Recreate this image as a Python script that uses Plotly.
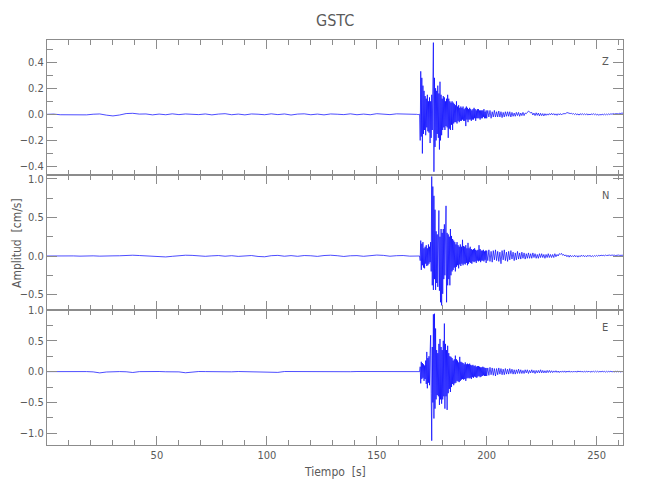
import numpy as np
import plotly.graph_objects as go
from plotly.subplots import make_subplots

quiet_start, quiet_step = 0.0, 3.0      # 56 samples, 0 .. 165 s
active_start, active_step = 168.0, 0.25  # 128 samples, 168 .. 199.75 s
tail_start, tail_step = 200.0, 0.5       # 125 samples, 200 .. 262 s

components = ["Z", "N", "E"]

# ---------------- Z ----------------
z_quiet = [
    0.0, 0.002, -0.003, -0.004, -0.005, -0.003, -0.004, 0.001,
    0.003, -0.006, -0.012, -0.005, 0.006, 0.008, 0.002, 0.003,
    -0.004, 0.002, -0.003, 0.004, -0.002, 0.003, 0.001, -0.002,
    0.003, -0.004, 0.002, 0.005, -0.003, 0.002, -0.004, 0.003,
    0.001, -0.003, 0.004, -0.002, 0.003, -0.005, 0.002, 0.004,
    -0.003, 0.002, -0.004, 0.003, 0.001, -0.002, 0.004, -0.003,
    0.002, -0.003, 0.005, 0.003, -0.002, 0.004, 0.002, -0.003,
]
z_active = [
    0.0, 0.002, -0.003, 0.002, -0.002, 0.003, 0.0, -0.20,
    0.33, -0.17, 0.28, -0.30, 0.22, -0.15, 0.18, -0.12,
    0.14, -0.16, 0.12, -0.10, 0.15, -0.13, 0.10, -0.14,
    0.13, -0.22, 0.10, -0.18, 0.15, -0.12, 0.20, 0.55,
    -0.44, 0.28, -0.25, 0.20, -0.20, 0.18, -0.15, 0.22,
    -0.18, 0.16, -0.27, 0.25, -0.20, 0.15, -0.16, 0.12,
    -0.12, 0.14, -0.10, 0.13, -0.12, 0.10, -0.09, 0.12,
    -0.10, 0.15, -0.18, 0.12, -0.11, 0.10, -0.12, 0.09,
    -0.08, 0.10, -0.12, 0.09, -0.07, 0.08, -0.06, 0.07,
    -0.06, 0.10, -0.07, 0.06, -0.05, 0.07, -0.06, 0.05,
    -0.05, 0.06, -0.05, 0.05, -0.04, 0.06, -0.05, 0.04,
    -0.05, 0.05, -0.09, 0.06, -0.04, 0.05, -0.06, 0.04,
    -0.04, 0.05, -0.04, 0.04, -0.05, 0.03, -0.04, 0.04,
    -0.04, 0.05, -0.03, 0.04, -0.05, 0.03, -0.03, 0.04,
    -0.03, 0.04, -0.03, 0.03, -0.04, 0.03, -0.03, 0.03,
    -0.03, 0.03, -0.02, 0.04, -0.03, 0.02, -0.03, 0.03,
]
z_tail = [
    -0.03, 0.03, -0.02, 0.03, -0.03, 0.02, -0.02, 0.03, -0.02, 0.02,
    -0.02, 0.025, -0.02, 0.02, -0.025, 0.015, -0.02, 0.02, -0.015, 0.02,
    -0.015, 0.02, -0.02, 0.015, -0.015, 0.01, -0.015, 0.015, -0.01, 0.015,
    -0.015, 0.01, -0.01, 0.015, -0.01, 0.01, 0.005, 0.015, 0.025, 0.02,
    0.01, 0.015, -0.005, 0.01, -0.01, 0.012, -0.008, 0.01, -0.012, 0.008,
    -0.01, 0.006, -0.012, 0.005, -0.008, 0.004, -0.006, 0.006, -0.004, 0.008,
    -0.004, 0.006, -0.006, 0.004, -0.008, 0.005, -0.004, 0.006, -0.005, 0.004,
    0.004, 0.008, 0.006, 0.014, 0.01, 0.012, 0.006, 0.008, 0.002, 0.006,
    -0.002, 0.006, -0.004, 0.004, -0.006, 0.005, -0.003, 0.006, -0.004, 0.004,
    -0.004, 0.005, -0.006, 0.003, -0.005, 0.004, -0.002, 0.005, -0.003, 0.004,
    -0.006, 0.002, -0.008, 0.001, -0.006, 0.002, -0.005, 0.003, -0.004, 0.002,
    -0.003, 0.004, -0.002, 0.005, 0.0, 0.006, 0.002, 0.005, 0.003, 0.006,
    0.004, 0.008, 0.006, 0.01, 0.008,
]

# ---------------- N ----------------
n_quiet = [
    0.0, 0.002, -0.002, 0.003, 0.001, -0.002, 0.004, 0.002,
    -0.002, 0.004, 0.002, 0.003, 0.008, 0.010, 0.006, 0.002,
    -0.004, -0.010, -0.012, -0.004, 0.006, 0.010, 0.008, 0.002,
    -0.004, 0.002, 0.006, -0.003, 0.004, -0.005, 0.003, 0.006,
    -0.006, -0.010, 0.004, 0.008, -0.003, 0.005, -0.004, 0.006,
    0.003, -0.005, 0.006, 0.010, 0.004, -0.006, 0.003, 0.005,
    -0.004, 0.006, 0.012, 0.008, -0.003, 0.004, 0.006, -0.002,
]
n_active = [
    0.0, 0.002, -0.002, 0.003, -0.002, 0.002, 0.0, -0.06,
    0.20, -0.18, 0.16, -0.12, 0.18, -0.15, 0.10, -0.16,
    0.12, -0.10, 0.14, -0.13, 0.10, -0.12, 0.15, -0.10,
    0.12, -0.08, 0.18, -0.20, 1.03, -0.38, 0.90, -0.44,
    0.78, -0.30, 0.60, -0.44, 0.32, -0.35, 0.28, -0.40,
    0.30, 0.59, -0.45, 0.25, -0.60, 0.35, -0.64, 0.30,
    -0.49, 0.35, -0.30, 0.41, -0.25, 0.30, 0.65, -0.60,
    0.30, -0.38, 0.28, -0.30, 0.25, -0.38, 0.35, -0.25,
    0.26, -0.20, 0.22, -0.18, 0.20, -0.15, 0.18, -0.20,
    0.15, -0.14, 0.18, -0.12, 0.14, -0.16, 0.12, -0.11,
    0.15, -0.13, 0.12, -0.10, 0.21, -0.12, 0.13, -0.10,
    0.12, -0.11, 0.14, -0.09, 0.10, -0.12, 0.17, -0.10,
    0.10, -0.08, 0.12, -0.09, 0.09, -0.10, 0.08, -0.07,
    0.09, -0.08, 0.10, -0.07, 0.08, -0.09, 0.07, -0.06,
    0.08, -0.07, 0.14, -0.06, 0.09, -0.08, 0.07, -0.06,
    0.07, -0.06, 0.08, -0.07, 0.06, -0.05, 0.07, -0.09,
]
n_tail = [
    0.07, -0.06, 0.08, -0.07, 0.06, -0.08, 0.07, -0.05, 0.08, -0.06,
    0.06, -0.07, 0.05, -0.10, 0.07, -0.05, 0.08, -0.06, 0.05, -0.07,
    0.06, -0.05, 0.07, -0.04, 0.05, -0.06, 0.04, -0.05, 0.06, -0.04,
    0.04, -0.04, 0.05, -0.03, 0.04, -0.04, 0.03, -0.03, 0.04, -0.03,
    0.03, -0.03, 0.04, -0.02, 0.03, -0.03, 0.02, -0.03, 0.03, -0.02,
    0.03, -0.02, 0.02, -0.03, 0.02, -0.02, 0.03, -0.02, 0.02, -0.02,
    0.02, -0.02, 0.03, -0.01, 0.02, 0.0, 0.03, 0.02, 0.035, 0.01,
    0.02, 0.0, 0.015, -0.01, 0.01, -0.015, 0.01, -0.01, 0.005, -0.01,
    0.01, -0.01, 0.005, -0.015, 0.005, -0.01, 0.01, -0.005, 0.01, -0.01,
    0.005, -0.01, 0.01, -0.005, 0.01, -0.01, 0.005, -0.008, 0.006, -0.004,
    0.008, -0.004, 0.01, 0.0, 0.012, 0.004, 0.01, 0.002, 0.012, 0.006,
    0.01, 0.004, 0.012, 0.006, 0.014, 0.008, 0.012, 0.006, 0.01, 0.008,
    0.012, 0.008, 0.01, 0.012, 0.01,
]

# ---------------- E ----------------
e_quiet = [
    0.0, 0.002, -0.002, 0.0, 0.003, -0.002, 0.001, -0.004,
    -0.020, -0.006, 0.002, 0.001, -0.002, -0.014, 0.0, 0.003,
    0.004, 0.002, -0.002, 0.001, -0.004, -0.018, -0.006, 0.002,
    0.001, -0.002, 0.002, 0.0, -0.003, 0.002, -0.001, 0.003,
    -0.002, 0.001, -0.008, -0.012, 0.002, 0.001, -0.002, 0.002,
    0.0, -0.003, 0.002, 0.001, -0.002, 0.003, -0.001, 0.002,
    0.001, -0.002, 0.003, 0.002, -0.002, 0.001, 0.002, -0.001,
]
e_active = [
    0.0, 0.002, -0.002, 0.001, -0.002, 0.002, 0.0, 0.08,
    -0.19, 0.16, -0.12, 0.14, -0.10, 0.12, -0.15, 0.10,
    -0.12, 0.18, -0.20, 0.32, -0.27, 0.22, -0.18, 0.25,
    -0.22, 0.30, 0.59, -0.35, -1.12, 0.40, -0.50, 0.93,
    -0.76, 0.94, -0.60, 0.70, -0.45, 0.35, -0.38, 0.30,
    -0.40, 0.45, -0.54, 0.53, -0.45, 0.40, -0.52, 0.35,
    -0.45, 0.50, -0.40, 0.78, -0.60, 0.45, -0.40, 0.35,
    -0.62, 0.42, -0.35, 0.30, -0.28, 0.25, -0.33, 0.24,
    -0.25, 0.22, -0.20, 0.18, -0.22, 0.20, -0.19, 0.26,
    -0.18, 0.20, -0.15, 0.18, -0.16, 0.15, -0.17, 0.24,
    -0.15, 0.16, -0.13, 0.15, -0.12, 0.14, -0.13, 0.12,
    -0.12, 0.15, -0.15, 0.12, -0.11, 0.13, -0.10, 0.12,
    -0.11, 0.13, -0.10, 0.11, -0.12, 0.10, -0.09, 0.11,
    -0.10, 0.09, -0.08, 0.10, -0.09, 0.08, -0.10, 0.09,
    -0.08, 0.09, -0.07, 0.08, -0.09, 0.07, -0.08, 0.07,
    -0.07, 0.08, -0.06, 0.07, -0.07, 0.06, -0.07, 0.06,
]
e_tail = [
    -0.07, 0.06, -0.06, 0.07, -0.05, 0.06, -0.06, 0.05, -0.07, 0.05,
    -0.05, 0.06, -0.04, 0.05, -0.05, 0.04, -0.05, 0.05, -0.04, 0.04,
    -0.04, 0.05, -0.03, 0.04, -0.04, 0.03, -0.04, 0.03, -0.03, 0.04,
    -0.03, 0.03, -0.03, 0.02, -0.03, 0.03, -0.02, 0.03, -0.03, 0.02,
    -0.02, 0.03, -0.02, 0.02, -0.03, 0.02, -0.02, 0.02, -0.02, 0.03,
    -0.02, 0.02, -0.02, 0.015, -0.02, 0.02, -0.015, 0.02, -0.015, 0.015,
    -0.015, 0.012, -0.01, 0.015, -0.012, 0.01, -0.015, 0.01, -0.01, 0.012,
    -0.01, 0.012, -0.012, 0.01, -0.008, 0.012, -0.01, 0.008, -0.01, 0.01,
    -0.008, 0.01, -0.01, 0.012, -0.006, 0.01, -0.008, 0.01, -0.01, 0.008,
    -0.008, 0.01, -0.006, 0.008, -0.01, 0.006, -0.008, 0.01, -0.006, 0.008,
    -0.006, 0.008, -0.008, 0.006, -0.006, 0.008, -0.004, 0.006, -0.008, 0.006,
    -0.006, 0.006, -0.004, 0.008, -0.006, 0.004, -0.006, 0.006, -0.004, 0.006,
    -0.004, 0.004, -0.006, 0.004, -0.002,
]

y_ranges = [[-0.465, 0.57], [-0.70, 1.05], [-1.19, 1.0]]
y_dticks = [0.2, 0.5, 0.5]
y_minor = [0.1, 0.25, 0.25]
x_range = [0, 262]
x_tickvals = [50, 100, 150, 200, 250]


def build(quiet, active, tail):
    t = np.concatenate([
        quiet_start + quiet_step * np.arange(len(quiet)),
        active_start + active_step * np.arange(len(active)),
        tail_start + tail_step * np.arange(len(tail)),
    ])
    y = np.concatenate([quiet, active, tail])
    return t, y


series = [build(z_quiet, z_active, z_tail),
          build(n_quiet, n_active, n_tail),
          build(e_quiet, e_active, e_tail)]

FONT = "DejaVu Sans Condensed, Liberation Sans Narrow, sans-serif"
AX = "#8c8c8c"
TXT = "#5a5a5a"

fig = make_subplots(rows=3, cols=1, shared_xaxes=True, vertical_spacing=0)

for i, (t, y) in enumerate(series):
    fig.add_trace(go.Scatter(x=t, y=y, mode="lines",
                             line=dict(color="#0000ff", width=0.7),
                             showlegend=False, hoverinfo="skip"),
                  row=i + 1, col=1)
    fig.update_yaxes(range=y_ranges[i], dtick=y_dticks[i], tick0=0,
                     tickformat=".1f", ticks="inside", ticklen=10,
                     tickcolor=AX, showline=True, linecolor=AX, linewidth=1,
                     mirror="allticks", showgrid=False, zeroline=False,
                     automargin=False,
                     minor=dict(dtick=y_minor[i], tick0=0, ticks="inside",
                                ticklen=6, tickcolor=AX),
                     tickfont=dict(family=FONT, size=11, color=TXT),
                     row=i + 1, col=1)
    fig.update_xaxes(range=x_range, tickmode="array", tickvals=x_tickvals,
                     ticks="inside", ticklen=9, tickcolor=AX, showline=True,
                     linecolor=AX, linewidth=1, mirror="allticks",
                     showgrid=False, zeroline=False, automargin=False,
                     minor=dict(dtick=10, tick0=0, ticks="inside",
                                ticklen=5, tickcolor=AX),
                     showticklabels=(i == 2),
                     tickfont=dict(family=FONT, size=11, color=TXT),
                     row=i + 1, col=1)

# axis titles, panel labels and title as paper annotations
fig.add_annotation(text="Tiempo  [s]", xref="paper", yref="paper",
                   x=0.5, y=-0.067, showarrow=False,
                   xanchor="center", yanchor="middle",
                   font=dict(family=FONT, size=12, color=TXT))
fig.add_annotation(text="Amplitud  [cm/s]", xref="paper", yref="paper",
                   x=-0.053, y=0.5, showarrow=False, textangle=-90,
                   xanchor="center", yanchor="middle",
                   font=dict(family=FONT, size=12, color=TXT))
fig.add_annotation(text="GSTC", xref="paper", yref="paper",
                   x=0.5, y=1.047, showarrow=False,
                   xanchor="center", yanchor="middle",
                   font=dict(family=FONT, size=16, color=TXT))

ann_y = [0.948, 0.615, 0.289]
for name, yy in zip(components, ann_y):
    fig.add_annotation(text=name, xref="paper", yref="paper", x=0.969, y=yy,
                       showarrow=False, xanchor="center", yanchor="middle",
                       font=dict(family=FONT, size=11, color=TXT))

# the page body adds an 8 px offset; margins compensate so the plot
# area sits at x 47..623, y 40..445 in the window
fig.update_layout(
    width=650, height=500,
    margin=dict(l=39, r=35, t=32, b=63, autoexpand=False),
    paper_bgcolor="white", plot_bgcolor="white",
)

fig.write_html("out.html")
